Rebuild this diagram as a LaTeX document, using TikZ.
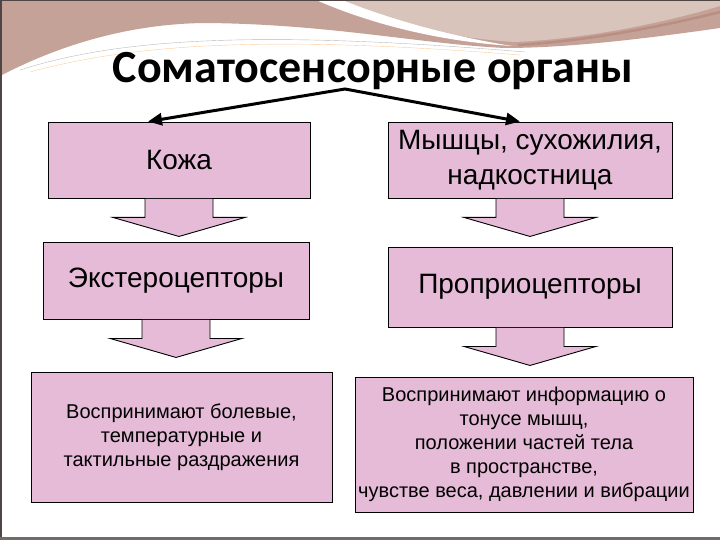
\documentclass[tikz,border=0pt]{standalone}
\usepackage{fontspec}
\setmainfont{Liberation Sans}
\newfontfamily\titlefont{Carlito}
\usetikzlibrary{arrows.meta,calc}

\definecolor{boxpink}{RGB}{229,187,215}
\definecolor{bandbrown}{RGB}{197,162,151}
\definecolor{bandlight}{RGB}{217,196,188}
\definecolor{stripbrown}{RGB}{186,142,130}
\definecolor{framegray}{RGB}{78,70,68}

\tikzset{
  organbox/.style={draw=black, fill=boxpink, line width=0.9pt, align=center, inner sep=0pt},
  bigtext/.style={font=\fontsize{28}{35}\selectfont},
  smalltext/.style={font=\fontsize{20}{24}\selectfont},
  blockarr/.style={draw=black, fill=boxpink, line width=0.9pt},
  toparr/.style={line width=3pt, {Triangle[length=14pt,width=12pt]}-{Triangle[length=14pt,width=12pt]}}
}

% block arrow hanging under a box, pointing at the next one
\newcommand{\blockdown}[2]{%
  \path (#1.south) coordinate (s)
    ($(#1.south)!38pt!(#1.south |- #2.north)$) coordinate (t);
  \draw[blockarr] ($(s)+(-34,0.4)$) -- ($(s)+(-34,19)$) -- ($(s)+(-66,19)$) -- (t)
    -- ($(s)+(66,19)$) -- ($(s)+(34,19)$) -- ($(s)+(34,0.4)$);
}

\begin{document}
\begin{tikzpicture}[x=1pt, y=-1pt]
  \useasboundingbox (0,0) rectangle (720,540);

  % slide template band
  \fill[bandbrown] (0,0) -- (720,0) -- (720,28)
    .. controls (650,38) and (570,48) .. (505,48)
    .. controls (420,44) and (330,24) .. (205,23)
    .. controls (120,24) and (50,50) .. (0,76) -- cycle;
  \fill[bandlight] (332,0) .. controls (390,24) and (450,38) .. (515,42)
    .. controls (600,38) and (680,18) .. (720,6) -- (720,0) -- cycle;
  \fill[white] (316,0) .. controls (380,28) and (450,42) .. (512,46)
    .. controls (450,36) and (392,20) .. (342,0) -- cycle;
  \draw[stripbrown, line width=2.5pt] (518,45) .. controls (600,40) and (680,22) .. (720,12);
  \draw[gray!55, thin] (20,70) .. controls (120,38) and (260,30) .. (525,52);
  \draw[orange!40, thin] (30,72) .. controls (140,42) and (280,36) .. (520,55);

  % frame
  \draw[framegray, line width=1.5pt] (0.75,0) -- (0.75,540);
  \draw[framegray, line width=1.5pt] (0,0.75) -- (720,0.75);
  \draw[framegray!80, line width=2.5pt] (0,538.5) -- (720,538.5);

  % title
  \node[font=\titlefont\bfseries\fontsize{46}{50}\selectfont, anchor=base] (title) at (373,83) {Соматосенсорные органы};

  % boxes
  \node[organbox, bigtext, minimum width=262pt, minimum height=76pt] (skin) at (179,160) {Кожа};
  \node[organbox, bigtext, minimum width=284pt, minimum height=76pt] (muscle) at (530,160) {Мышцы, сухожилия,\\ надкостница};
  \node[organbox, bigtext, minimum width=266pt, minimum height=77pt] (extero) at (176,280.5) {Экстероцепторы};
  \node[organbox, bigtext, minimum width=284pt, minimum height=80pt] (proprio) at (530,287) {Проприоцепторы};
  \node[organbox, smalltext, minimum width=301pt, minimum height=130pt] (exdesc) at (181.5,437.5)
    {Воспринимают болевые,\\ температурные и\\ тактильные раздражения};
  \node[organbox, smalltext, minimum width=338pt, minimum height=135pt] (prdesc) at (524,444.5)
    {Воспринимают информацию о\\ тонусе мышц,\\ положении частей тела\\ в пространстве,\\ чувстве веса, давлении и вибрации};

  % arrows from the title
  \coordinate (apex) at (345,89);
  \draw[toparr] ([xshift=-31pt]skin.north) -- (apex) -- ([xshift=-10pt]muscle.north);

  % block arrows
  \blockdown{skin}{extero}
  \blockdown{extero}{exdesc}
  \blockdown{muscle}{proprio}
  \blockdown{proprio}{prdesc}

\end{tikzpicture}
\end{document}
